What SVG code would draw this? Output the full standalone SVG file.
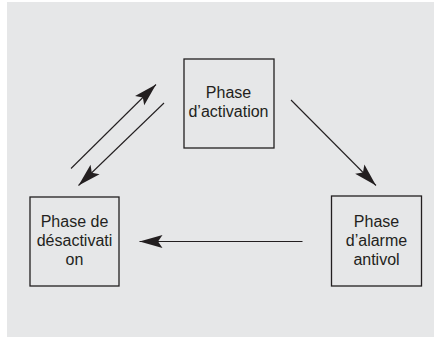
<svg xmlns="http://www.w3.org/2000/svg" width="434" height="337" viewBox="0 0 434 337">
<style>
.box{fill:none;stroke:#231f20;stroke-width:1.3}
.lbl{font-family:"Liberation Sans",Arial,sans-serif;font-size:16px;fill:#231f20;text-anchor:middle}
.conn{stroke:#231f20;stroke-width:1.1;fill:none;marker-end:url(#ah)}
</style>
<defs>
<marker id="ah" markerUnits="userSpaceOnUse" markerWidth="26" markerHeight="16" viewBox="-24 -8 26 16" refX="0" refY="0" orient="auto">
<path d="M0,0 L-23,-6.5 L-18.5,0 L-23,6.5 Z" fill="#231f20"/>
</marker>
</defs>
<rect x="7" y="2" width="427" height="335" fill="#e6e7e8"/>
<g id="activation">
<rect class="box" x="184" y="59" width="90" height="89"/>
<text class="lbl" x="228.5" y="98">Phase</text>
<text class="lbl" x="228.5" y="117">d’activation</text>
</g>
<g id="desactivation">
<rect class="box" x="30" y="197" width="89" height="89"/>
<text class="lbl" x="74.5" y="227">Phase de</text>
<text class="lbl" x="74.5" y="246">désactivati</text>
<text class="lbl" x="74.5" y="265">on</text>
</g>
<g id="alarme">
<rect class="box" x="331.5" y="196" width="90" height="90"/>
<text class="lbl" x="376.5" y="227">Phase</text>
<text class="lbl" x="376.5" y="246">d’alarme</text>
<text class="lbl" x="376.5" y="265">antivol</text>
</g>
<g id="connectors">
<line class="conn" x1="71" y1="168.5" x2="156" y2="84.5"/>
<line class="conn" x1="164" y1="103" x2="78.5" y2="185.5"/>
<line class="conn" x1="291" y1="100" x2="376" y2="185.5"/>
<line class="conn" x1="302.5" y1="241.5" x2="139.5" y2="241.5"/>
</g>
</svg>
